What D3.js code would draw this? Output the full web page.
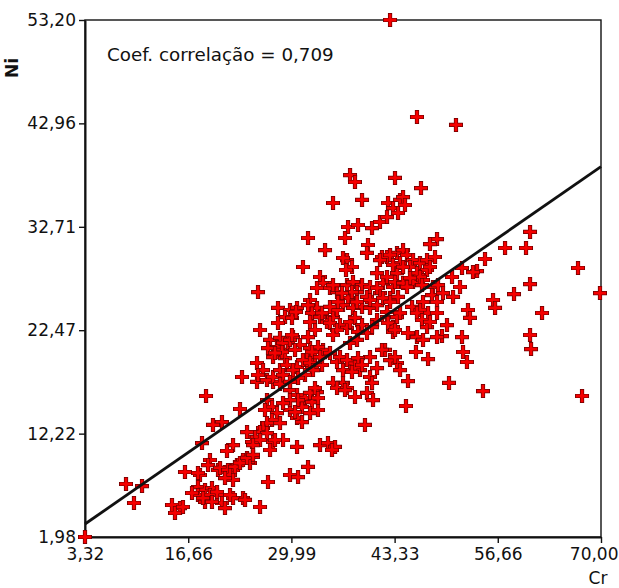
<!DOCTYPE html>
<html>
<head>
<meta charset="utf-8">
<script src="https://cdn.jsdelivr.net/npm/d3@7/dist/d3.min.js"></script>
<style>
  html, body { margin: 0; padding: 0; background: #fff; }
  svg { display: block; }
  text { font-family: "DejaVu Sans", sans-serif; fill: #111; }
</style>
</head>
<body>
<svg id="chart" width="619" height="588"></svg>
<script>
// Cr (x) and Ni (y) content of each sample
const crValues = [
  3.32, 42.74, 46.22, 51.26, 43.38, 46.74, 37.57, 38.21, 35.37, 39.12,
  42.48, 43.12, 44.03, 44.42, 44.67, 43.77, 37.31, 38.60, 40.41, 41.44,
  42.35, 32.14, 36.92, 34.34, 39.89, 39.76, 42.35, 43.64, 44.42, 48.81,
  47.90, 60.83, 57.60, 60.31, 55.01, 53.98, 67.03, 69.87, 60.83, 58.76,
  56.05, 56.31, 62.38, 52.81, 53.07, 60.83, 60.96, 52.04, 52.17, 52.68,
  49.45, 50.36, 54.75, 67.55, 45.06, 44.80, 47.65, 46.09, 43.64, 42.74,
  42.09, 43.12, 39.50, 31.49, 25.68,
  37.18, 37.82, 41.70, 42.74, 44.03, 43.64, 41.06, 41.83, 43.12, 41.44,
  42.74, 43.77, 33.69, 34.08, 33.30, 34.98, 35.89, 37.18, 37.95, 39.12,
  38.47, 40.15, 39.76, 37.31, 36.66, 37.95, 39.12, 40.15, 41.06, 28.26,
  29.81, 30.72, 29.17, 30.07, 25.94, 32.40, 33.30, 32.65, 33.69, 32.40,
  34.59, 35.37, 35.89, 36.27, 37.18, 37.57, 38.21, 39.12, 39.76, 41.06,
  42.35, 43.12, 27.23, 28.52, 28.13, 28.91, 29.55, 30.20, 26.97, 27.62,
  29.17, 31.10, 32.40, 33.04, 32.01, 34.08, 34.98, 30.72, 32.65, 33.95,
  35.89, 36.66, 37.95, 38.86, 40.15, 41.70, 44.03, 41.06, 23.61, 25.55,
  27.62, 40.15, 36.66, 36.66, 37.05, 41.44, 44.93, 45.71, 46.61, 47.52,
  48.55, 45.32, 46.22, 47.52, 42.35, 43.38, 44.42, 45.71, 47.00, 48.29,
  48.16, 48.81, 47.00, 46.61, 47.65, 48.81, 35.37, 37.82, 36.53, 41.06,
  30.59, 32.14, 33.95, 34.98, 36.01, 38.47, 40.15, 47.90, 43.12, 44.42,
  46.61, 45.32, 44.93, 46.87, 52.04, 53.46, 50.75, 51.78, 50.88, 48.94,
  49.58, 41.83, 42.74, 42.35, 43.64, 42.48, 43.38, 45.58, 46.22, 46.87,
  47.52, 47.90, 45.06, 46.22, 47.00, 48.81, 50.10, 43.38, 44.03, 28.26,
  28.91, 29.81, 30.07, 30.46, 28.78, 27.87, 33.04, 32.14, 33.43, 32.65,
  33.69, 34.98, 35.89, 35.37, 38.60, 37.57, 38.47, 40.41, 25.55, 26.32,
  25.68, 26.84, 27.62, 28.52, 29.42, 28.91, 30.20, 31.49, 32.40, 32.78,
  31.75, 30.85, 36.27, 37.18, 38.60, 38.21, 39.12, 37.82, 35.37, 35.89,
  37.18, 38.21, 39.76, 40.54, 40.41, 29.81, 30.72, 31.75, 32.65, 33.30,
  32.40, 33.43, 31.36, 26.84, 27.49, 26.58, 28.13, 27.49, 28.52, 29.81,
  30.72, 23.35, 28.52, 29.81, 36.92, 32.40, 33.04, 33.43, 30.85, 29.81,
  28.91, 30.46, 31.36, 26.84, 26.32, 25.94, 25.29, 24.90, 24.26, 28.91,
  27.62, 27.23, 30.72, 33.69, 34.72, 35.63, 35.24, 22.45, 22.96, 23.74,
  24.64, 25.03, 22.45, 26.97, 29.81, 30.85, 32.14, 23.74, 22.45, 25.94,
  18.96, 21.02, 19.86, 18.44, 21.67, 19.47, 16.24, 18.18, 20.51, 21.41,
  8.62, 10.69, 9.65, 17.92, 18.83, 19.73, 20.38, 17.92, 17.15, 18.83,
  21.02, 21.41, 14.56, 15.60, 14.95, 15.98, 26.84, 25.94, 25.03, 27.87,
  19.22, 17.92, 20.77, 21.80, 22.70, 23.35, 24.26, 25.03, 22.06, 22.45,
  21.41, 19.47, 20.38, 18.57, 19.73, 22.06, 24.00
];
const niValues = [
  1.98, 53.20, 43.59, 42.80, 37.55, 36.55, 37.84, 37.15, 35.07, 35.37,
  35.07, 34.57, 35.37, 35.66, 34.87, 34.08, 32.69, 32.89, 32.59, 33.19,
  33.68, 31.60, 31.60, 30.41, 30.91, 30.12, 29.72, 30.12, 30.41, 31.50,
  31.00, 32.20, 30.61, 30.61, 29.52, 28.33, 28.63, 26.15, 27.04, 26.05,
  25.46, 24.67, 24.17, 24.47, 23.68, 21.99, 20.60, 21.79, 20.31, 19.32,
  21.89, 17.24, 16.44, 15.95, 17.43, 14.96, 19.61, 20.31, 19.22, 19.51,
  20.51, 22.29, 13.08, 28.73, 26.25,
  29.42, 28.73, 29.72, 29.92, 29.12, 28.13, 28.13, 27.14, 26.75, 26.15,
  25.66, 25.76, 27.74, 27.14, 26.65, 26.65, 26.25, 26.94, 27.24, 26.94,
  26.25, 26.75, 25.76, 25.66, 24.96, 24.67, 24.77, 24.67, 24.96, 24.67,
  24.47, 24.67, 23.77, 23.68, 22.49, 25.46, 24.67, 24.17, 23.77, 23.28,
  23.28, 23.77, 24.47, 22.98, 22.69, 23.28, 23.68, 22.98, 22.19, 23.48,
  23.77, 22.78, 21.50, 21.70, 20.80, 20.51, 21.20, 21.79, 20.70, 19.81,
  19.71, 21.00, 20.70, 19.81, 19.51, 20.51, 20.21, 18.82, 18.72, 19.02,
  19.32, 18.52, 19.22, 18.52, 19.81, 20.51, 18.52, 18.72, 17.83, 17.34,
  17.34, 17.83, 17.24, 29.62, 28.43, 29.42, 29.92, 29.42, 29.12, 29.42,
  29.72, 28.73, 28.13, 28.43, 27.74, 27.24, 27.14, 27.24, 27.44, 26.75,
  25.95, 25.26, 25.26, 24.47, 24.17, 24.17, 26.94, 26.25, 26.15, 26.65,
  24.27, 24.96, 24.17, 24.77, 25.26, 25.26, 25.46, 28.73, 28.93, 28.73,
  27.74, 27.64, 26.75, 26.94, 28.63, 28.23, 27.74, 26.75, 25.76, 26.94,
  26.15, 25.66, 25.26, 24.27, 23.77, 23.18, 22.49, 24.77, 24.17, 23.48,
  22.78, 23.28, 22.19, 21.79, 21.50, 21.79, 22.98, 19.81, 24.17, 23.18,
  21.20, 21.50, 21.99, 20.51, 20.31, 20.21, 22.49, 21.79, 20.80, 20.31,
  19.81, 23.18, 22.49, 21.99, 22.29, 21.20, 21.50, 22.78, 19.22, 18.52,
  18.03, 17.53, 17.83, 18.52, 19.02, 18.03, 18.52, 19.51, 19.22, 18.52,
  18.03, 17.73, 19.81, 19.51, 19.71, 18.82, 19.02, 18.33, 17.24, 16.74,
  16.74, 15.85, 16.25, 15.55, 17.24, 16.54, 16.05, 15.75, 15.35, 16.34,
  14.26, 14.56, 14.86, 15.55, 14.86, 14.56, 14.26, 13.57, 13.27, 14.56,
  13.77, 14.66, 17.14, 17.34, 16.54, 16.25, 16.74, 15.75, 15.55, 15.55,
  15.25, 14.36, 13.37, 13.27, 12.78, 12.38, 11.89, 11.39, 12.38, 11.59,
  11.39, 10.60, 10.90, 11.09, 11.29, 10.90, 10.60, 11.09, 9.11, 9.61,
  9.31, 9.91, 8.62, 7.43, 8.12, 7.92, 8.92, 5.84, 5.84, 4.95,
  15.95, 13.37, 13.08, 11.29, 10.50, 9.61, 8.42, 8.12, 8.62, 8.42,
  7.23, 7.03, 5.35, 6.93, 6.64, 6.83, 6.14, 6.14, 6.34, 5.45,
  5.35, 4.85, 5.15, 4.85, 4.36, 4.95, 12.28, 11.59, 11.09, 11.59,
  9.11, 8.32, 8.82, 8.62, 8.92, 9.31, 9.81, 10.11, 8.12, 7.63,
  7.82, 6.14, 6.44, 5.84, 5.45, 6.14, 5.65
];

// Fitted trend line (Ni on Cr), end points over the Cr range
const trendCr = [3.32, 70.00];
const trendNi = [3.27, 38.67];

// Axis ticks
const crTicks = [3.32, 16.66, 29.99, 43.33, 56.66, 70.00];
const crTickLabels = ["3,32", "16,66", "29,99", "43,33", "56,66", "70,00"];
const niTicks = [1.98, 12.22, 22.47, 32.71, 42.96, 53.20];
const niTickLabels = ["1,98", "12,22", "22,47", "32,71", "42,96", "53,20"];

const correlationLabel = "Coef. correlação = 0,709";
const xTitle = "Cr";
const yTitle = "Ni";

const svg = d3.select("#chart");
const margin = { left: 85, right: 18, top: 20, bottom: 51 };
const W = 619, H = 588;

const x = d3.scaleLinear().domain([crTicks[0], crTicks[crTicks.length - 1]])
  .range([margin.left, W - margin.right]);
const y = d3.scaleLinear().domain([niTicks[0], niTicks[niTicks.length - 1]])
  .range([H - margin.bottom, margin.top]);

const fontSize = 17;

// plot frame
svg.append("rect")
  .attr("x", x.range()[0]).attr("y", y.range()[1])
  .attr("width", x.range()[1] - x.range()[0])
  .attr("height", y.range()[0] - y.range()[1])
  .attr("fill", "none").attr("stroke", "#111").attr("stroke-width", 1.4);

// axes
const xAxis = svg.append("g")
  .attr("transform", `translate(0,${y.range()[0]})`)
  .call(d3.axisBottom(x).tickValues(crTicks)
    .tickFormat((d, i) => crTickLabels[i]).tickSize(6).tickSizeOuter(0).tickPadding(5));
const yAxis = svg.append("g")
  .attr("transform", `translate(${x.range()[0]},0)`)
  .call(d3.axisLeft(y).tickValues(niTicks)
    .tickFormat((d, i) => niTickLabels[i]).tickSize(6).tickSizeOuter(0).tickPadding(3));

[xAxis, yAxis].forEach(g => {
  g.select(".domain").attr("stroke", "#111").attr("stroke-width", 2);
  g.selectAll(".tick line").attr("stroke", "#111").attr("stroke-width", 1.4);
  g.selectAll(".tick text")
    .attr("font-family", "DejaVu Sans, sans-serif")
    .attr("font-size", fontSize).attr("fill", "#111");
});

// keep the last Cr label inside the page's right edge
xAxis.selectAll(".tick text").filter((d, i, n) => i === n.length - 1)
  .attr("text-anchor", "end").attr("dx", W - 1 - x.range()[1]);

// sample markers: red crosses with dark rims
const arm = 7;
const pts = crValues.map((c, i) => [c, niValues[i]]);
const marks = svg.append("g").selectAll("g").data(pts).join("g")
  .attr("transform", d => `translate(${x(d[0])},${y(d[1])})`);
marks.append("path").attr("d", `M${-arm},0H${arm}M0,${-arm}V${arm}`)
  .attr("stroke", "#6a0000").attr("stroke-width", 4.2).attr("fill", "none");
marks.append("path").attr("d", `M${-arm + 0.8},0H${arm - 0.8}M0,${-arm + 0.8}V${arm - 0.8}`)
  .attr("stroke", "#f50000").attr("stroke-width", 2.8).attr("fill", "none");

// trend line
svg.append("line")
  .attr("x1", x(trendCr[0])).attr("y1", y(trendNi[0]))
  .attr("x2", x(trendCr[1])).attr("y2", y(trendNi[1]))
  .attr("stroke", "#111").attr("stroke-width", 2.8);

// correlation note
svg.append("text")
  .attr("x", 107).attr("y", 61)
  .attr("font-size", 18.3)
  .text(correlationLabel);

// axis titles
svg.append("text")
  .attr("x", 598).attr("y", 584)
  .attr("text-anchor", "middle")
  .attr("font-size", fontSize)
  .text(xTitle);
svg.append("text")
  .attr("transform", "translate(18,68) rotate(-90)")
  .attr("text-anchor", "middle")
  .attr("font-size", fontSize)
  .attr("font-weight", "bold")
  .text(yTitle);
</script>
</body>
</html>
